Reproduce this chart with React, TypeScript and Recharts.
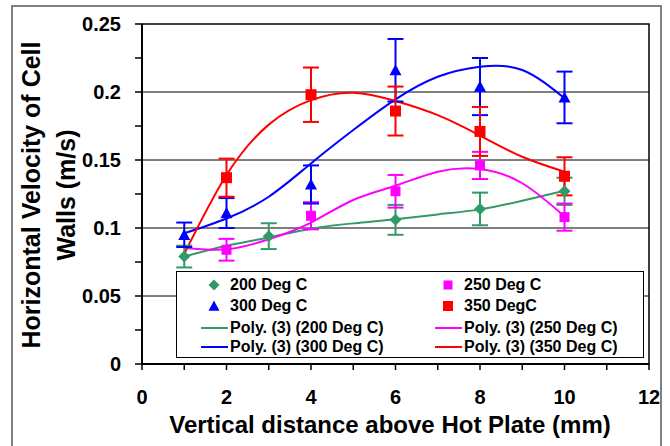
import React from 'react';
import {
  ComposedChart,
  Scatter,
  Line,
  XAxis,
  YAxis,
  ErrorBar,
  ReferenceLine,
  ReferenceArea,
  Legend,
  Label,
} from 'recharts';

const FONT = '"Liberation Sans", Arial, sans-serif';

// axis ticks
const xTicks = [0, 1, 2, 3, 4, 5, 6, 7, 8, 9, 10, 11, 12];
const yTicks = [0, 0.025, 0.05, 0.075, 0.1, 0.125, 0.15, 0.175, 0.2, 0.225, 0.25];
const yLabelled = [0, 0.05, 0.1, 0.15, 0.2, 0.25];
const gridValues = [0.05, 0.1, 0.15, 0.2];

// measured points (mm, m/s) and error sizes
const x200 = [1, 3, 6, 8, 10];
const v200 = [0.079, 0.094, 0.106, 0.114, 0.127];
const e200 = [0.008, 0.0095, 0.011, 0.012, 0.01];

const x250 = [2, 4, 6, 8, 10];
const v250 = [0.084, 0.109, 0.127, 0.146, 0.108];
const e250 = [0.008, 0.01, 0.012, 0.01, 0.01];

const x300 = [1, 2, 4, 6, 8, 10];
const v300 = [0.095, 0.111, 0.132, 0.216, 0.204, 0.196];
const e300 = [0.009, 0.011, 0.014, 0.023, 0.021, 0.019];

const x350 = [2, 4, 6, 8, 10];
const v350 = [0.137, 0.198, 0.186, 0.171, 0.138];
const e350 = [0.014, 0.02, 0.018, 0.018, 0.014];

// poly (3) trend lines
const trendX = [1, 2, 3, 4, 5, 6, 7, 8, 9, 10];
const t200 = [0.079, 0.087, 0.093, 0.0995, 0.1034, 0.1064, 0.11, 0.1137, 0.12, 0.1274];
const t250 = [0.0855, 0.0843, 0.0917, 0.104, 0.1206, 0.1311, 0.1414, 0.1434, 0.1329, 0.1085];
const t300 = [0.0961, 0.107, 0.123, 0.1475, 0.172, 0.1946, 0.2112, 0.2186, 0.2162, 0.1954];
const t350 = [0.081, 0.139, 0.176, 0.194, 0.1995, 0.1934, 0.183, 0.168, 0.1524, 0.1414];

const toPoints = (xs: number[], ys: number[], es: number[]) =>
  xs.map((x, i) => ({ x, y: ys[i], err: es[i] }));
const toTrend = (ys: number[]) => trendX.map((x, i) => ({ x, y: ys[i] }));

type Shape = 'diamond' | 'square' | 'triangle';

function markerPath(shape: Shape, cx: number, cy: number, r: number) {
  if (shape === 'diamond') return `M${cx},${cy - r}L${cx + r},${cy}L${cx},${cy + r}L${cx - r},${cy}Z`;
  if (shape === 'triangle') return `M${cx},${cy - r}L${cx + r},${cy + r * 0.85}L${cx - r},${cy + r * 0.85}Z`;
  return `M${cx - r},${cy - r}H${cx + r}V${cy + r}H${cx - r}Z`;
}

const series = [
  { name: '200 Deg C', color: '#339966', shape: 'diamond' as Shape, r: 6, points: toPoints(x200, v200, e200), trend: toTrend(t200) },
  { name: '250 Deg C', color: '#FF00FF', shape: 'square' as Shape, r: 5, points: toPoints(x250, v250, e250), trend: toTrend(t250) },
  { name: '300 Deg C', color: '#0000FF', shape: 'triangle' as Shape, r: 6, points: toPoints(x300, v300, e300), trend: toTrend(t300) },
  { name: '350 DegC', color: '#FF0000', shape: 'square' as Shape, r: 5.5, points: toPoints(x350, v350, e350), trend: toTrend(t350) },
];

const trendName = (n: string) => `Poly. (3) (${n.replace('DegC', 'Deg C')})`;

function LegendBox() {
  const rowsTop = [284, 305, 326.5, 346];
  const colMarker = [36.5, 271];
  const colText = [53, 287];
  const items: React.ReactNode[] = [];
  series.forEach((s, i) => {
    const col = i % 2;
    const row = Math.floor(i / 2);
    const cy = rowsTop[row] - 271;
    items.push(
      <svg key={'m' + i} width={16} height={16} style={{ position: 'absolute', left: colMarker[col] - 8, top: cy - 8 }}>
        <path d={markerPath(s.shape, 8, 8, s.r - 0.5)} fill={s.color} />
      </svg>,
      <span key={'t' + i} style={{ position: 'absolute', left: colText[col], top: cy - 10, lineHeight: '20px' }}>
        {s.name}
      </span>,
    );
    const ly = rowsTop[row + 2] - 271;
    items.push(
      <svg key={'l' + i} width={28} height={4} style={{ position: 'absolute', left: colText[col] - 29, top: ly - 2 }}>
        <line x1={0} y1={2} x2={27} y2={2} stroke={s.color} strokeWidth={2} />
      </svg>,
      <span key={'lt' + i} style={{ position: 'absolute', left: colText[col], top: ly - 10, lineHeight: '20px' }}>
        {trendName(s.name)}
      </span>,
    );
  });
  return (
    <div
      style={{
        position: 'relative',
        width: 466,
        height: 85,
        border: '1px solid #000',
        background: '#fff',
        fontFamily: FONT,
        fontWeight: 'bold',
        fontSize: 16,
        color: '#000',
        whiteSpace: 'nowrap',
      }}
    >
      {items}
    </div>
  );
}

export default function App() {
  return (
    <div style={{ position: 'absolute', left: 0, top: 0, width: 670, height: 446, overflow: 'hidden', background: '#fff' }}>
      <div
        style={{
          position: 'absolute',
          left: 11,
          top: 5,
          width: 647,
          height: 500,
          border: '2px solid #808080',
        }}
      />
      <div style={{ position: 'absolute', left: 0, top: 0 }}>
        <ComposedChart width={670} height={446} margin={{ top: 24, right: 21, bottom: 42, left: 82 }}>
          <XAxis
            type="number"
            dataKey="x"
            domain={[0, 12]}
            ticks={xTicks}
            interval={0}
            allowDataOverflow
            height={40}
            tickSize={6}
            tickMargin={20}
            tickFormatter={(v: number) => (v % 2 === 0 ? String(v) : '')}
            tick={{ fill: '#000', fontSize: 20, fontWeight: 'bold', fontFamily: FONT }}
            tickLine={{ stroke: '#000', strokeWidth: 1.5 }}
            axisLine={{ stroke: '#000', strokeWidth: 2 }}
          >
            <Label
              content={() => (
                <text x={390} y={433} textAnchor="middle" fontFamily={FONT} fontWeight="bold" fontSize={24} fill="#000">
                  Vertical distance above Hot Plate (mm)
                </text>
              )}
            />
          </XAxis>
          <YAxis
            type="number"
            dataKey="y"
            domain={[0, 0.25]}
            ticks={yTicks}
            interval={0}
            allowDataOverflow
            width={60}
            tickSize={7}
            tickMargin={14}
            tickFormatter={(v: number) => (yLabelled.some((t) => Math.abs(t - v) < 1e-9) ? String(v) : '')}
            tick={{ fill: '#000', fontSize: 20, fontWeight: 'bold', fontFamily: FONT }}
            tickLine={{ stroke: '#000', strokeWidth: 1.5 }}
            axisLine={{ stroke: '#000', strokeWidth: 2 }}
          >
            <Label
              content={() => (
                <g fontFamily={FONT} fontWeight="bold" fontSize={25} fill="#000">
                  <text x={40} y={195} textAnchor="middle" transform="rotate(-90 40 195)">
                    Horizontal Velocity of Cell
                  </text>
                  <text x={75} y={195} textAnchor="middle" transform="rotate(-90 75 195)">
                    Walls (m/s)
                  </text>
                </g>
              )}
            />
          </YAxis>
          <ReferenceArea x1={0} x2={12} y1={0} y2={0.25} fill="none" stroke="#000" strokeWidth={1.5} />
          {gridValues.map((v) => (
            <ReferenceLine key={v} y={v} stroke="#000" strokeWidth={1} />
          ))}
          <Legend
            layout="horizontal"
            verticalAlign="middle"
            align="center"
            wrapperStyle={{ left: 176, top: 271, width: 468, height: 87 }}
            content={() => <LegendBox />}
          />
          {series.map((s) => (
            <Line
              key={'t' + s.name}
              data={s.trend}
              dataKey="y"
              type="natural"
              stroke={s.color}
              strokeWidth={2}
              dot={false}
              activeDot={false}
              legendType="none"
              isAnimationActive={false}
            />
          ))}
          {series.map((s) => (
            <Scatter
              key={s.name}
              name={s.name}
              data={s.points}
              fill={s.color}
              isAnimationActive={false}
              shape={(p: any) => <path d={markerPath(s.shape, p.cx, p.cy, s.r)} fill={s.color} />}
            >
              <ErrorBar dataKey="err" direction="y" width={8} stroke={s.color} strokeWidth={2} />
            </Scatter>
          ))}
        </ComposedChart>
      </div>
    </div>
  );
}
